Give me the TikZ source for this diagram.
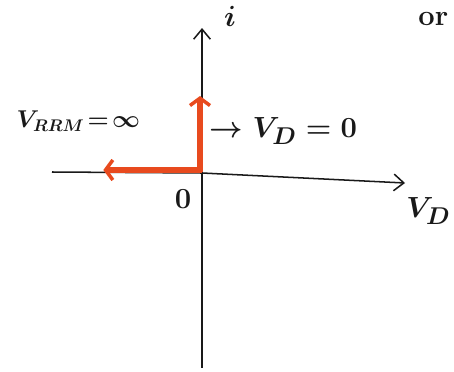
\documentclass[tikz,border=0pt]{standalone}
\usepackage{amsmath}
\usepackage{xcolor}
\definecolor{skred}{RGB}{232,74,30}
\definecolor{skink}{RGB}{25,25,25}
\usepackage{tikz}
\usetikzlibrary{arrows.meta, positioning}

\begin{document}
\begin{tikzpicture}[
    axisline/.style={line width=1.3pt, skink, -{Straight Barb[length=3mm, width=5mm, line width=1.3pt]}},
    charline/.style={line width=5pt, skred, -{Straight Barb[length=2.2mm, width=6mm, line width=3pt]}},
    lbl/.style={font=\Huge\boldmath, skink, inner sep=1pt}
  ]
  \useasboundingbox (0,0) rectangle (13.62,11.13);

  % Axes
  \coordinate (O)    at (6.06,5.94);
  \coordinate (ybot) at (6.06,0.09);
  \coordinate (ytop) at (6.06,10.29);
  \coordinate (xlft) at (1.56,5.97);
  \coordinate (xrgt) at (12.15,5.64);
  \draw[line width=1.3pt, skink] (O) -- (ybot);
  \draw[axisline] (O) -- (ytop);
  \draw[line width=1.3pt, skink] (O) -- (xlft);
  \draw[axisline] (O) -- (xrgt);

  % Ideal diode characteristic
  \coordinate (fwd) at (6.0,8.25);
  \coordinate (rev) at (3.1,6.03);
  \draw[charline] (6.0,5.98) -- (fwd);
  \draw[charline] (6.05,6.03) -- (rev);

  % Labels
  \node[lbl] (ilbl)   at (6.9,10.65) {$i$};
  \node[lbl] (vdlbl)  at (12.85,4.8) {$V_D$};
  \node[lbl] (olbl)   at (5.49,5.15) {$0$};
  \node[lbl, font=\huge\boldmath] (vrrm) at (2.35,7.5) {$V_{RRM}\!=\!\infty$};
  \node[lbl] (vdzero) at (8.5,7.2)   {$\rightarrow V_D = 0$};
  \node[lbl, font=\Huge\bfseries] (orlbl) at (13.0,10.55) {or};
\end{tikzpicture}
\end{document}
